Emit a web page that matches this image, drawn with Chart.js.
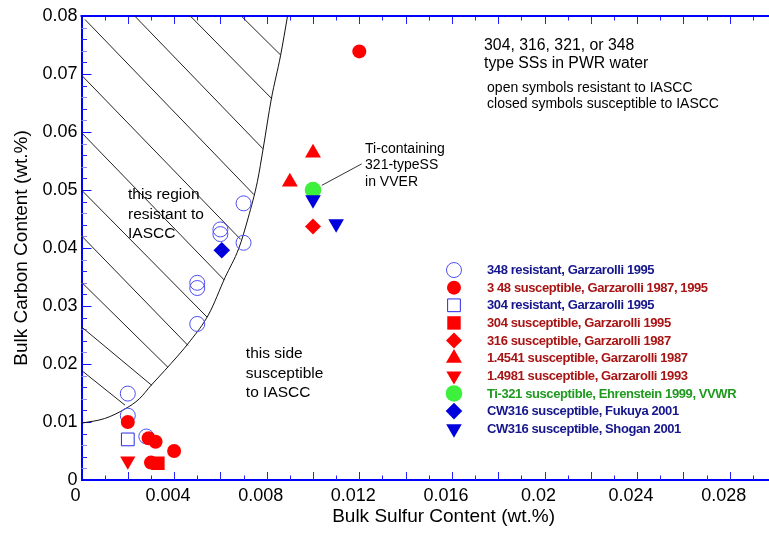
<!DOCTYPE html>
<html><head><meta charset="utf-8">
<script src="https://cdn.jsdelivr.net/npm/chart.js@4.4.0/dist/chart.umd.min.js"></script>
<style>html,body{margin:0;padding:0;overflow:hidden;background:#fff}#wrap{width:776px;height:533px}</style>
</head><body><div id="wrap"><canvas id="c" width="776" height="533"></canvas></div>
<script>
// ---------------- data ----------------
const xTickValues = [0, 0.004, 0.008, 0.012, 0.016, 0.02, 0.024, 0.028];
const xTickLabels = ['0', '0.004', '0.008', '0.012', '0.016', '0.02', '0.024', '0.028'];
const yTickValues = [0, 0.01, 0.02, 0.03, 0.04, 0.05, 0.06, 0.07, 0.08];
const yTickLabels = ['0', '0.01', '0.02', '0.03', '0.04', '0.05', '0.06', '0.07', '0.08'];
const xMinorStep = 0.001, yMinorStep = 0.002;

const seriesNames = [
  '348 resistant, Garzarolli 1995',
  '3 48 susceptible, Garzarolli 1987, 1995',
  '304 resistant, Garzarolli 1995',
  '304 susceptible, Garzarolli 1995',
  '316 susceptible, Garzarolli 1987',
  '1.4541 susceptible, Garzarolli 1987',
  '1.4981 susceptible, Garzarolli 1993',
  'Ti-321 susceptible, Ehrenstein 1999, VVWR',
  'CW316 susceptible, Fukuya 2001',
  'CW316 susceptible, Shogan 2001'
];
const res348S = [0.002, 0.002, 0.0028, 0.005, 0.005, 0.005, 0.006, 0.006, 0.007, 0.007];
const res348C = [0.0149, 0.0111, 0.0075, 0.0269, 0.0331, 0.0340, 0.0424, 0.0432, 0.0409, 0.0477];
const sus348S = [0.002, 0.0029, 0.0032, 0.0040, 0.0030, 0.0120];
const sus348C = [0.0100, 0.0072, 0.0066, 0.0050, 0.0030, 0.0739];
const res304S = [0.002];
const res304C = [0.0070];
const sus304S = [0.0033];
const sus304C = [0.0029];
const sus316S = [0.010];
const sus316C = [0.0437];
const sus4541S = [0.010, 0.009];
const sus4541C = [0.0564, 0.0514];
const sus4981S = [0.002];
const sus4981C = [0.0033];
const ti321S = [0.010];
const ti321C = [0.0500];
const fukuyaS = [0.00606];
const fukuyaC = [0.0396];
const shoganS = [0.010, 0.0110];
const shoganC = [0.0483, 0.0442];

// boundary of the resistant region
const curveS = [0, 0.001, 0.0019, 0.0025, 0.003, 0.0036, 0.0047, 0.0055, 0.0062, 0.0068, 0.0072, 0.0076, 0.00785, 0.0082, 0.0086, 0.0089];
const curveC = [0.0098, 0.0106, 0.0123, 0.0140, 0.0163, 0.0189, 0.0240, 0.0286, 0.0349, 0.0400, 0.0452, 0.0515, 0.0572, 0.0657, 0.0732, 0.0800];
// hatch lines (start / end)
const hatchS1 = [0.00015, 0.0023, 0.0047, 0.0069, 0, 0, 0, 0, 0, 0, 0];
const hatchC1 = [0.0794, 0.0800, 0.0800, 0.0800, 0.0698, 0.0599, 0.0500, 0.0421, 0.0341, 0.0264, 0.0189];
const hatchS2 = [0.00745, 0.00784, 0.00823, 0.00862, 0.00687, 0.00616, 0.00542, 0.00460, 0.00374, 0.00304, 0.00188];
const hatchC2 = [0.0492, 0.0571, 0.0657, 0.0732, 0.0415, 0.0345, 0.0281, 0.0232, 0.0194, 0.0163, 0.0129];
// leader line to the Ti-321 point
const leaderS = [0.01038, 0.0121];
const leaderC = [0.0508, 0.0545];

// ---------------- chart ----------------
const pts = (xs, ys) => xs.map((v, i) => ({x: v, y: ys[i]}));
const BLUE_AX = '#0000ff';
const NAVY = '#16168c', DRED = '#a81414', GREEN_T = '#1f9a1f';
const CANVAS_W = 776;

const markerDefs = [
  {d: pts(res348S, res348C), style: 'circle', r: 7.5, fill: 'rgba(0,0,0,0)', line: '#4d4df2', bw: 1, rot: 0, tc: NAVY},
  {d: pts(sus348S, sus348C), style: 'circle', r: 7, fill: '#ff0000', line: '#ff0000', bw: 0, rot: 0, tc: DRED},
  {d: pts(res304S, res304C), style: 'rect', r: 9, fill: 'rgba(0,0,0,0)', line: '#2a2aea', bw: 1, rot: 0, tc: NAVY},
  {d: pts(sus304S, sus304C), style: 'rect', r: 9.5, fill: '#ff0000', line: '#ff0000', bw: 0, rot: 0, tc: DRED},
  {d: pts(sus316S, sus316C), style: 'rectRot', r: 8, fill: '#ff0000', line: '#ff0000', bw: 0, rot: 0, tc: DRED},
  {d: pts(sus4541S, sus4541C), style: 'triangle', r: 9.2, fill: '#ff0000', line: '#ff0000', bw: 0, rot: 0, tc: DRED},
  {d: pts(sus4981S, sus4981C), style: 'triangle', r: 8.8, fill: '#ff0000', line: '#ff0000', bw: 0, rot: 180, tc: DRED},
  {d: pts(ti321S, ti321C), style: 'circle', r: 8.3, fill: '#3cf03c', line: '#3cf03c', bw: 0, rot: 0, tc: GREEN_T},
  {d: pts(fukuyaS, fukuyaC), style: 'rectRot', r: 8.3, fill: '#0000dd', line: '#0000dd', bw: 0, rot: 0, tc: NAVY},
  {d: pts(shoganS, shoganC), style: 'triangle', r: 9, fill: '#0000dd', line: '#0000dd', bw: 0, rot: 180, tc: NAVY}
];

const datasets = [];
markerDefs.forEach((m, i) => {
  datasets.push({
    label: seriesNames[i], data: m.d, showLine: false, order: 20 - i,
    pointStyle: m.style, pointRadius: m.r, pointRotation: m.rot,
    pointBackgroundColor: m.fill, pointBorderColor: m.line, pointBorderWidth: m.bw,
    backgroundColor: m.fill, borderColor: m.line, borderWidth: m.bw,
    isMarker: true, textColor: m.tc
  });
});
datasets.push({label: 'boundary', data: pts(curveS, curveC), showLine: true, pointRadius: 0,
  borderColor: '#111', borderWidth: 1, order: 100, tension: 0.3, cubicInterpolationMode: 'monotone'});
hatchS1.forEach((s, i) => {
  datasets.push({label: 'hatch' + i, data: [{x: s, y: hatchC1[i]}, {x: hatchS2[i], y: hatchC2[i]}],
    showLine: true, pointRadius: 0, borderColor: '#222', borderWidth: 1, order: 101});
});
datasets.push({label: 'leader', data: pts(leaderS, leaderC), showLine: true, pointRadius: 0,
  borderColor: '#333', borderWidth: 1, order: 99});

const annotations = [
  {s: 0.01739, c: 0.07496, t: '304, 316, 321, or 348', f: '15.8px "Liberation Sans"'},
  {s: 0.01739, c: 0.0717, t: 'type SSs in PWR water', f: '15.8px "Liberation Sans"'},
  {s: 0.01752, c: 0.0676, t: 'open symbols resistant to IASCC', f: '14px "Liberation Sans"'},
  {s: 0.01752, c: 0.0648, t: 'closed symbols susceptible to IASCC', f: '14px "Liberation Sans"'},
  {s: 0.01225, c: 0.0571, t: 'Ti-containing', f: '14px "Liberation Sans"'},
  {s: 0.01225, c: 0.0543, t: '321-typeSS', f: '14px "Liberation Sans"'},
  {s: 0.01225, c: 0.0513, t: 'in VVER', f: '14px "Liberation Sans"'},
  {s: 0.00201, c: 0.0492, t: 'this region', f: '15.5px "Liberation Sans"'},
  {s: 0.00201, c: 0.0458, t: 'resistant to', f: '15.5px "Liberation Sans"'},
  {s: 0.00201, c: 0.0425, t: 'IASCC', f: '15.5px "Liberation Sans"'},
  {s: 0.0071, c: 0.0218, t: 'this side', f: '15.5px "Liberation Sans"'},
  {s: 0.0071, c: 0.0184, t: 'susceptible', f: '15.5px "Liberation Sans"'},
  {s: 0.0071, c: 0.0151, t: 'to IASCC', f: '15.5px "Liberation Sans"'}
];
const legendAnchor = {s: 0.01609, c: 0.0362, textGapPx: 33, rowPx: 17.63};
const xTitle = {s: 0.01564, text: 'Bulk Sulfur Content (wt.%)'};

function seg(ctx, x1, y1, x2, y2) { ctx.beginPath(); ctx.moveTo(x1, y1); ctx.lineTo(x2, y2); ctx.stroke(); }

const deco = {
  id: 'deco',
  afterLayout(chart) {
    // the plot box runs to x = 0.03, just past the right edge of the window
    const s = chart.scales.x;
    if (chart.chartArea.right < CANVAS_W) {
      s.right = CANVAS_W; s.width = s.right - s.left;
      s.configure();
      chart.chartArea.right = CANVAS_W;
      chart.chartArea.width = chart.chartArea.right - chart.chartArea.left;
    }
  },
  beforeDatasetsDraw(chart) {
    const {ctx, chartArea: a, scales: {x, y}} = chart;
    ctx.save();
    ctx.lineWidth = 1;
    ctx.strokeStyle = '#2323ff';
    const nx = Math.round(x.max / xMinorStep);
    for (let i = 1; i < nx; i++) {
      const px = Math.round(x.getPixelForValue(i * xMinorStep)) + 0.5;
      const len = i % 2 === 0 ? 8 : 4.5;
      seg(ctx, px, a.bottom, px, a.bottom - len);
      seg(ctx, px, a.top, px, a.top + len);
    }
    const ny = Math.round(y.max / yMinorStep);
    for (let i = 1; i < ny; i++) {
      const py = Math.round(y.getPixelForValue(i * yMinorStep)) + 0.5;
      const len = i % 5 === 0 ? 10 : 5.5;
      ctx.strokeStyle = i % 5 === 0 ? '#1010ff' : (i % 2 ? '#8a8aff' : '#2323ff');
      seg(ctx, a.left, py, a.left + len, py);
    }
    ctx.lineWidth = 2;
    ctx.strokeStyle = BLUE_AX;
    seg(ctx, a.left - 1, a.top, a.right, a.top);
    ctx.restore();
  },
  afterDatasetsDraw(chart) {
    const {ctx, chartArea: a, scales: {x, y}} = chart;
    ctx.save();
    ctx.fillStyle = '#000';
    ctx.textBaseline = 'middle';
    ctx.textAlign = 'left';
    annotations.forEach(an => {
      ctx.font = an.f;
      ctx.fillText(an.t, x.getPixelForValue(an.s), y.getPixelForValue(an.c));
    });
    // x axis title
    ctx.textAlign = 'center';
    ctx.font = '19px "Liberation Sans"';
    ctx.fillText(xTitle.text, x.getPixelForValue(xTitle.s), a.bottom + 37);
    // legend
    const H = Chart.helpers;
    const mx = x.getPixelForValue(legendAnchor.s);
    const my0 = y.getPixelForValue(legendAnchor.c);
    ctx.textAlign = 'left';
    ctx.font = 'bold 13px "Liberation Sans"';
    try { ctx.letterSpacing = '-0.4px'; } catch (e) {}
    chart.data.datasets.filter(d => d.isMarker).forEach((d, i) => {
      const my = my0 + i * legendAnchor.rowPx;
      ctx.fillStyle = d.pointBackgroundColor;
      ctx.strokeStyle = d.pointBorderColor;
      ctx.lineWidth = d.pointBorderWidth;
      if (H && H.drawPoint) {
        H.drawPoint(ctx, {pointStyle: d.pointStyle, rotation: d.pointRotation, radius: d.pointRadius, borderWidth: d.pointBorderWidth}, mx, my);
      }
      ctx.fillStyle = d.textColor;
      ctx.fillText(d.label, mx + legendAnchor.textGapPx, my + 0.5);
    });
    ctx.restore();
  }
};

new Chart(document.getElementById('c'), {
  type: 'scatter',
  data: {datasets},
  plugins: [deco],
  options: {
    responsive: false, animation: false, events: [],
    devicePixelRatio: 1,
    layout: {padding: {top: 16, left: 0, right: 0, bottom: 0}},
    plugins: {legend: {display: false}, tooltip: {enabled: false}},
    scales: {
      x: {
        type: 'linear', min: 0, max: 0.03,
        afterFit: s => { s.height = 53; },
        afterBuildTicks: s => { s.ticks = xTickValues.map(v => ({value: v})); },
        grid: {display: false, drawTicks: false},
        border: {display: true, color: BLUE_AX, width: 2},
        ticks: {autoSkip: false, maxRotation: 0, padding: 5, labelOffset: -6, color: '#000',
          font: {family: 'Liberation Sans', size: 18},
          callback: (v, i) => xTickLabels[i]}
      },
      y: {
        type: 'linear', min: 0, max: 0.08,
        afterFit: s => { s.width = 81.5; },
        afterBuildTicks: s => { s.ticks = yTickValues.map(v => ({value: v})); },
        grid: {display: false, drawTicks: false},
        border: {display: true, color: BLUE_AX, width: 2},
        title: {display: true, text: 'Bulk Carbon Content (wt.%)', color: '#000',
          font: {family: 'Liberation Sans', size: 19}, padding: {top: 10, bottom: 0}},
        ticks: {autoSkip: false, padding: 4, color: '#000',
          font: {family: 'Liberation Sans', size: 18},
          callback: (v, i) => yTickLabels[i]}
      }
    }
  }
});
</script></body></html>
